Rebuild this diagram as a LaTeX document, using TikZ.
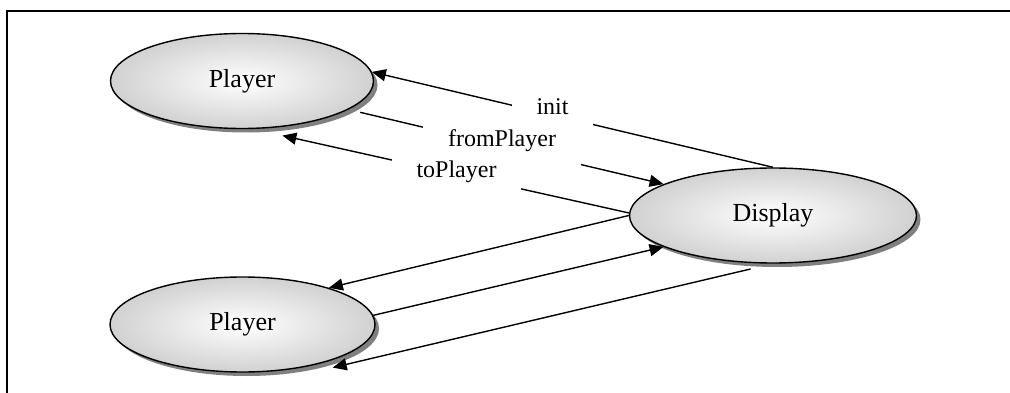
\documentclass[tikz,border=0pt]{standalone}
\usepackage{fontspec}
\setmainfont{Liberation Serif}
\usetikzlibrary{shapes.geometric,shadows,arrows.meta}
\begin{document}
\begin{tikzpicture}[x=1pt,y=-1pt,
  actor/.style={ellipse, draw=black, line width=1.4pt, inner sep=0pt,
    inner color=white, outer color=black!18,
    drop shadow={shadow xshift=4pt, shadow yshift=-4pt, fill=black!50, opacity=1},
    minimum height=95pt, font=\fontsize{26}{30}\selectfont},
  flow/.style={line width=1.4pt, -{Triangle[length=14pt,width=12pt]}},
  tag/.style={fill=white, inner sep=0pt, font=\fontsize{24}{28}\selectfont}]
\useasboundingbox (0,0) rectangle (1010,393);

% open frame: top and left edges only
\draw[line width=2pt] (7,393) -- (7,11) -- (1010,11);

% processes
\node[actor, minimum width=263pt] (p1) at (242,81) {Player};
\node[actor, minimum width=287pt] (d) at (773,215.5) {Display};
\node[actor, minimum width=265pt] (p2) at (242.5,324.5) {Player};

% upper player channels
\draw[flow] (d.north) -- (p1.4);
\draw[flow, shorten <=12pt] (p1.-15) -- (d.164);
\draw[flow, shorten >=30pt] (d.179) -- (p1.-77.5);

% lower player channels
\draw[flow] (d.west) -- (p2.23);
\draw[flow] (p2.4) -- (d.196);
\draw[flow, shorten <=23pt] (d.south) -- ([shift={(-4pt,-9pt)}]p2.south east);

% channel names
\node[tag, minimum width=81pt, text height=15pt, text depth=13pt] (linit) at (552.5,114) {init};
\node[tag, minimum width=158pt, text height=22pt, text depth=20pt] (lfrom) at (502,146) {fromPlayer};
\node[tag, minimum width=129pt, text height=20pt, text depth=12pt] (lto) at (456.5,174) {toPlayer};
\end{tikzpicture}
\end{document}
